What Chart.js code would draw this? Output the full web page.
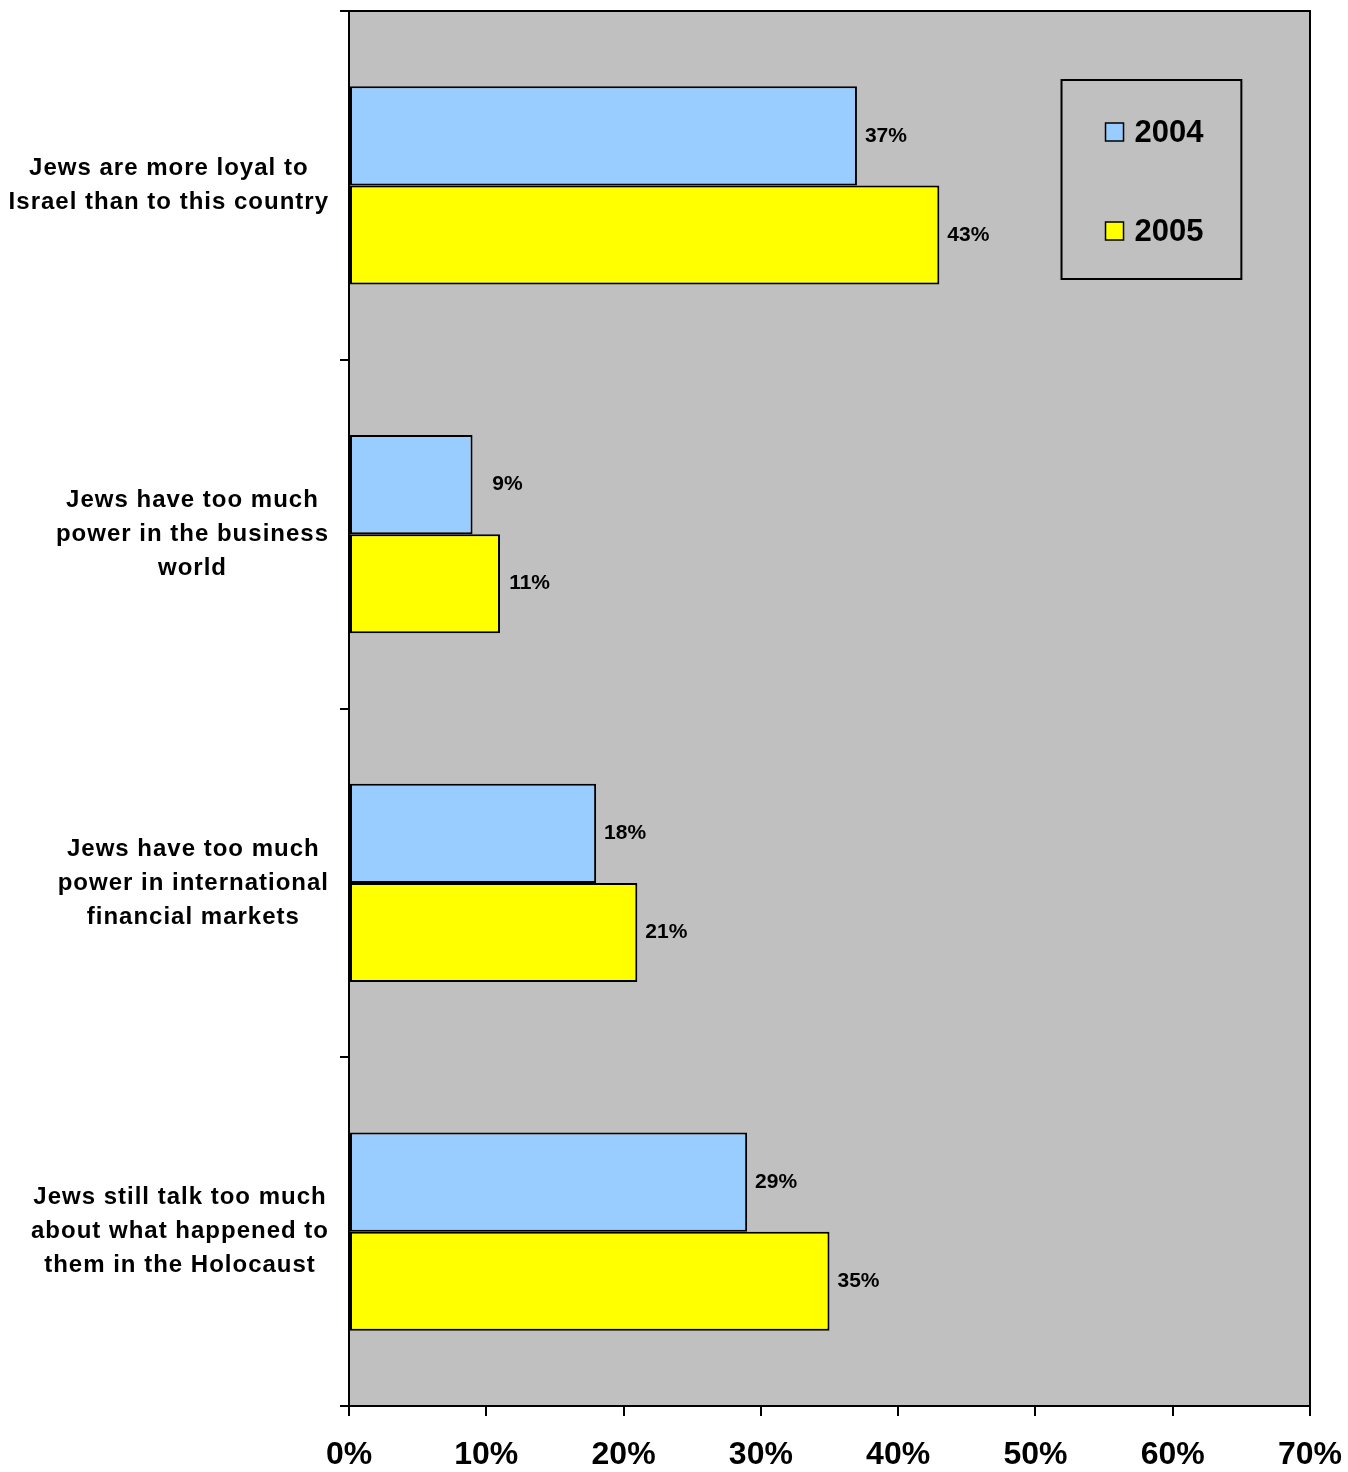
<!DOCTYPE html>
<html>
<head>
<meta charset="utf-8">
<script src="https://cdn.jsdelivr.net/npm/chart.js@4"></script>
<style>
  body { margin: 0; background: #fff; }
  canvas { display: block; }
</style>
</head>
<body>
<canvas id="chart" width="1348" height="1472"></canvas>
<script>
// values
const categories = [
  ['Jews are more loyal to', 'Israel than to this country'],
  ['Jews have too much', 'power in the business', 'world'],
  ['Jews have too much', 'power in international', 'financial markets'],
  ['Jews still talk too much', 'about what happened to', 'them in the Holocaust']
];
const seriesNames = ['2004', '2005'];
const values2004 = [37, 9, 18, 29];
const values2005 = [43, 11, 21, 35];
const xTicks = [0, 10, 20, 30, 40, 50, 60, 70];

const FONT = '"Liberation Sans", Arial, sans-serif';
const BLUE = '#99CCFF';
const YELLOW = '#FFFF00';

// grey plot area + border
const plotArea = {
  id: 'plotArea',
  beforeDatasetsDraw(chart) {
    const { ctx, chartArea: a } = chart;
    ctx.save();
    ctx.fillStyle = '#C0C0C0';
    ctx.fillRect(a.left, a.top, a.right - a.left, a.bottom - a.top);
    ctx.restore();
  },
  afterDraw(chart) {
    const { ctx, chartArea: a } = chart;
    ctx.save();
    ctx.strokeStyle = '#000';
    ctx.lineWidth = 2;
    ctx.strokeRect(a.left, a.top, a.right - a.left, a.bottom - a.top);
    ctx.restore();
  }
};

// category labels, each block centred on its own widest line
const catLabels = {
  id: 'catLabels',
  afterDraw(chart) {
    const { ctx, chartArea: a } = chart;
    const y = chart.scales.y;
    ctx.save();
    ctx.font = 'bold 24px ' + FONT;
    ctx.letterSpacing = '1px';
    ctx.fillStyle = '#000';
    ctx.textAlign = 'center';
    ctx.textBaseline = 'middle';
    const lh = 34;
    categories.forEach((lines, i) => {
      const cy = y.getPixelForValue(i);
      const widest = Math.max(...lines.map(l => ctx.measureText(l).width));
      const cx = a.left - 20 - widest / 2;
      const y0 = cy - (lines.length - 1) * lh / 2;
      lines.forEach((l, j) => ctx.fillText(l, cx, y0 + j * lh));
    });
    ctx.restore();
  }
};

// value labels right-aligned a fixed distance past the bar end
const valueLabels = {
  id: 'valueLabels',
  afterDatasetsDraw(chart) {
    const { ctx } = chart;
    ctx.save();
    ctx.font = 'bold 21px ' + FONT;
    ctx.fillStyle = '#000';
    ctx.textAlign = 'right';
    ctx.textBaseline = 'middle';
    chart.data.datasets.forEach((ds, di) => {
      chart.getDatasetMeta(di).data.forEach((bar, i) => {
        ctx.fillText(ds.data[i] + '%', bar.x + 50, bar.y);
      });
    });
    ctx.restore();
  }
};

// boxed legend inside the plot, top right
const boxLegend = {
  id: 'boxLegend',
  afterDraw(chart) {
    const { ctx } = chart;
    const x = chart.scales.x;
    const left = x.getPixelForValue(51.9);
    const right = x.getPixelForValue(65);
    const top = 80, bottom = 279;
    ctx.save();
    ctx.strokeStyle = '#000';
    ctx.lineWidth = 2;
    ctx.strokeRect(left, top, right - left, bottom - top);
    ctx.font = 'bold 31px ' + FONT;
    ctx.textBaseline = 'middle';
    ctx.textAlign = 'left';
    const rows = [132, 231];
    chart.data.datasets.forEach((ds, i) => {
      const cy = rows[i];
      ctx.fillStyle = ds.backgroundColor;
      ctx.fillRect(left + 44, cy - 9, 18, 18);
      ctx.lineWidth = 1.5;
      ctx.strokeRect(left + 44, cy - 9, 18, 18);
      ctx.fillStyle = '#000';
      ctx.fillText(ds.label, left + 73, cy + 1);
    });
    ctx.restore();
  }
};

new Chart(document.getElementById('chart'), {
  type: 'bar',
  data: {
    labels: categories,
    datasets: [
      { label: seriesNames[0], data: values2004, backgroundColor: BLUE },
      { label: seriesNames[1], data: values2005, backgroundColor: YELLOW }
    ]
  },
  options: {
    indexAxis: 'y',
    responsive: false,
    animation: false,
    events: [],
    layout: { padding: { top: 11, right: 38, bottom: 0, left: 0 } },
    datasets: {
      bar: {
        categoryPercentage: 0.568,
        barPercentage: 1,
        borderColor: '#000',
        borderWidth: 2,
        borderSkipped: false
      }
    },
    plugins: {
      legend: { display: false },
      tooltip: { enabled: false }
    },
    scales: {
      x: {
        min: 0,
        max: 70,
        afterBuildTicks(scale) {
          scale.ticks = xTicks.map(v => ({ value: v }));
        },
        afterFit(scale) {
          scale.height = 66;
          scale.paddingLeft = 0;
          scale.paddingRight = 0;
        },
        grid: { drawOnChartArea: false, drawTicks: true, tickLength: 10, color: '#000', lineWidth: 2 },
        border: { display: true, color: '#000', width: 2 },
        ticks: {
          padding: 20,
          color: '#000',
          font: { family: FONT, size: 32, weight: 'bold', lineHeight: 1.2 },
          callback: v => v + '%'
        }
      },
      y: {
        offset: true,
        afterFit(scale) { scale.width = 349; },
        grid: { offset: true, drawOnChartArea: false, drawTicks: true, tickLength: 9, color: '#000', lineWidth: 2 },
        border: { display: true, color: '#000', width: 2 },
        ticks: { display: false }
      }
    }
  },
  plugins: [plotArea, catLabels, valueLabels, boxLegend]
});
</script>
</body>
</html>
